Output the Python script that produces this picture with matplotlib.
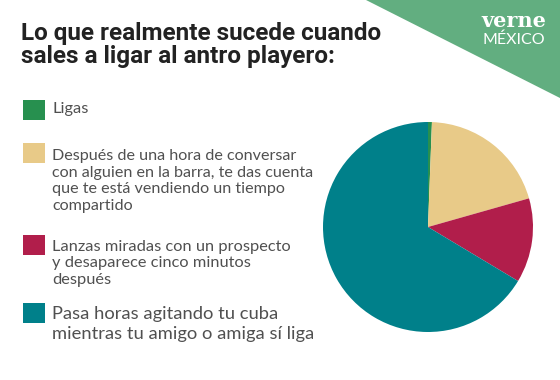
import matplotlib.pyplot as plt
from matplotlib.patches import Polygon, Rectangle

# datos del gráfico
labels = [
    "Ligas",
    "Después de una hora de conversar\ncon alguien en la barra, te das cuenta\nque te está vendiendo un tiempo\ncompartido",
    "Lanzas miradas con un prospecto\ny desaparece cinco minutos\ndespués",
    "Pasa horas agitando tu cuba\nmientras tu amigo o amiga sí liga",
]
values = [0.6, 20.0, 13.0, 66.4]
colors = ["#27904F", "#E8CA88", "#B11E4B", "#00808A"]

title = "Lo que realmente sucede cuando\nsales a ligar al antro playero:"

W, H = 560, 380
fig = plt.figure(figsize=(W / 100, H / 100), dpi=100)

# capa de fondo en pixeles (y hacia abajo)
bg = fig.add_axes([0, 0, 1, 1])
bg.set_xlim(0, W)
bg.set_ylim(H, 0)
bg.axis("off")

# triangulo verde con el logo
bg.add_patch(Polygon([[366, 0], [W, 0], [W, 98]], closed=True,
                     facecolor="#62AE80", edgecolor="none"))
bg.text(514, 21, "verne", color="white", fontsize=15, fontweight="bold",
        family="DejaVu Serif", ha="center", va="center")
bg.text(514, 40, "MÉXICO", color="white", fontsize=11.5,
        family="Lato", ha="center", va="center")

bg.text(21, 45, title, fontsize=17.5, fontweight="bold", color="#222222",
        family="Roboto", ha="left", va="center", linespacing=1.05)

# leyenda manual
swatch_y = [100, 143, 235, 303]
text_y = [109, 181, 263.5, 324]
sizes = [11.8, 11.6, 11.8, 13.2]
for lab, col, sy, ty, fs in zip(labels, colors, swatch_y, text_y, sizes):
    bg.add_patch(Rectangle((23, sy), 22, 20, facecolor=col, edgecolor="none"))
    bg.text(52, ty, lab, fontsize=fs, color="#505050", family="Lato",
            ha="left", va="center", linespacing=1.26)

# pastel
cx, cy, r = 428, 227, 105
pie_ax = fig.add_axes([(cx - r) / W, (H - cy - r) / H, 2 * r / W, 2 * r / H])
pie_ax.pie(values, colors=colors, startangle=90, counterclock=False,
           wedgeprops=dict(linewidth=0))
pie_ax.set_xlim(-1, 1)
pie_ax.set_ylim(-1, 1)

plt.savefig("out.png", dpi=100)
